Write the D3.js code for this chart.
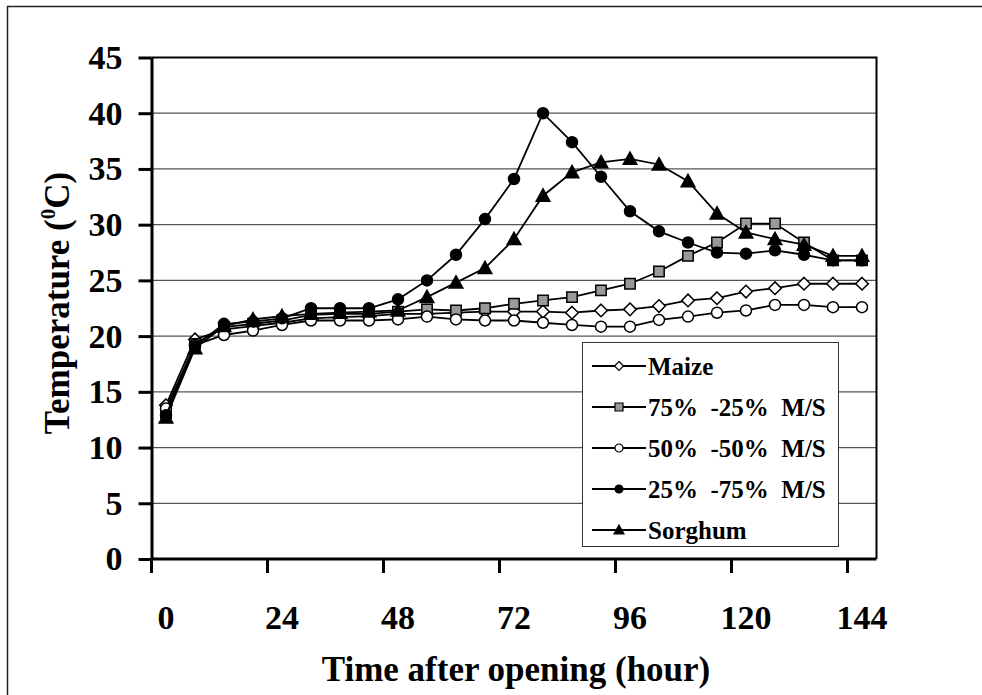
<!DOCTYPE html>
<html>
<head>
<meta charset="utf-8">
<script src="https://cdn.jsdelivr.net/npm/d3@7"></script>
<style>
body { margin: 0; background: #fff; }
text { font-family: "Liberation Serif", "Times New Roman", serif; font-weight: bold; }
</style>
</head>
<body>
<script>
// Data (temperature in deg C, one value every 6 hours)
var hours = [0, 6, 12, 18, 24, 30, 36, 42, 48, 54, 60, 66, 72, 78, 84, 90, 96, 102, 108, 114, 120, 126, 132, 138, 144];
var xLabels = [0, 24, 48, 72, 96, 120, 144];
var yTicks = [0, 5, 10, 15, 20, 25, 30, 35, 40, 45];
var seriesNames = ["Maize", "75%  -25%  M/S", "50%  -50%  M/S", "25%  -75%  M/S", "Sorghum"];

var maize   = [13.8, 19.7, 20.6, 20.9, 21.2, 21.6, 21.7, 21.8, 22.0, 22.0, 22.1, 22.2, 22.2, 22.2, 22.1, 22.3, 22.4, 22.7, 23.2, 23.4, 24.0, 24.3, 24.7, 24.7, 24.7];
var m75s25  = [13.1, 19.3, 20.8, 21.1, 21.4, 21.9, 22.0, 22.0, 22.2, 22.4, 22.3, 22.5, 22.9, 23.2, 23.5, 24.1, 24.7, 25.8, 27.2, 28.4, 30.1, 30.1, 28.4, 26.8, 26.8];
var m50s50  = [13.5, 19.2, 20.1, 20.5, 21.0, 21.4, 21.4, 21.4, 21.5, 21.75, 21.5, 21.4, 21.4, 21.2, 21.0, 20.85, 20.85, 21.45, 21.75, 22.1, 22.3, 22.8, 22.8, 22.6, 22.6];
var m25s75  = [12.9, 19.1, 21.1, 21.3, 21.6, 22.5, 22.5, 22.5, 23.3, 25.0, 27.3, 30.5, 34.1, 40.0, 37.4, 34.3, 31.2, 29.4, 28.4, 27.5, 27.4, 27.7, 27.3, 26.8, 26.8];
var sorghum = [12.7, 18.9, 20.9, 21.5, 21.8, 22.0, 22.1, 22.2, 22.3, 23.5, 24.8, 26.1, 28.7, 32.6, 34.7, 35.6, 35.9, 35.4, 33.9, 31.0, 29.3, 28.7, 28.2, 27.2, 27.2];

var W = 982, H = 695,
	plot = {left: 151.5, right: 876.5, top: 57.5, bottom: 559};

// marker looks, in series order
var styles = [
	{shape: "diamond",  fill: "#fff",    size: 6.3, leg: 4.5},
	{shape: "square",   fill: "#999",    size: 5.2, leg: 4},
	{shape: "circle",   fill: "#fff",    size: 5.5, leg: 4},
	{shape: "circle",   fill: "#000",    size: 5.5, leg: 4},
	{shape: "triangle", fill: "#000",    size: 6.8, leg: 5}
];
var series = [maize, m75s25, m50s50, m25s75, sorghum];

function markerPath(shape, s) {
	if (shape == "diamond") return "M0," + (-s) + "L" + s + ",0L0," + s + "L" + (-s) + ",0Z";
	if (shape == "square") return "M" + (-s) + "," + (-s) + "h" + 2*s + "v" + 2*s + "h" + (-2*s) + "Z";
	if (shape == "triangle") return "M0," + (-s) + "L" + s + "," + (s*0.8) + "L" + (-s) + "," + (s*0.8) + "Z";
	return "M" + (-s) + ",0A" + s + "," + s + " 0 1,0 " + s + ",0A" + s + "," + s + " 0 1,0 " + (-s) + ",0Z";
}

var svg = d3.select("body")
	.append("svg")
	.attr("width", W)
	.attr("height", H);

// outer chart border
svg.append("rect")
	.attr("x", 7.5)
	.attr("y", 6.5)
	.attr("width", W + 20)
	.attr("height", H + 20)
	.attr("fill", "#fff")
	.attr("stroke", "#222")
	.attr("stroke-width", 1.5);

var x = d3.scaleBand()
	.domain(hours)
	.range([plot.left, plot.right])
	.padding(0);

var y = d3.scaleLinear()
	.domain([0, 45])
	.range([plot.bottom, plot.top]);

// gridlines
svg.append("g")
	.selectAll("line")
	.data(yTicks.filter(function(d) { return d > 0 && d < 45; }))
	.enter()
	.append("line")
	.attr("x1", plot.left)
	.attr("x2", plot.right)
	.attr("y1", function(d) { return y(d); })
	.attr("y2", function(d) { return y(d); })
	.attr("stroke", "#555")
	.attr("stroke-width", 1.2);

// plot area border (top and right)
svg.append("path")
	.attr("d", "M" + plot.left + "," + y(45) + "H" + plot.right + "V" + plot.bottom)
	.attr("fill", "none")
	.attr("stroke", "#000")
	.attr("stroke-width", 2);

// y axis
var yAxis = svg.append("g")
	.attr("transform", "translate(" + plot.left + ",0)")
	.call(d3.axisLeft(y).tickValues(yTicks).tickSize(13).tickSizeOuter(0).tickPadding(16));
yAxis.select(".domain").attr("stroke-width", 3);
yAxis.selectAll(".tick line").attr("stroke-width", 3);
yAxis.selectAll(".tick text")
	.attr("font-size", "34px")
	.attr("font-family", null)
	.attr("fill", "#000");

// x axis
svg.append("line")
	.attr("x1", plot.left)
	.attr("x2", plot.right)
	.attr("y1", plot.bottom)
	.attr("y2", plot.bottom)
	.attr("stroke", "#000")
	.attr("stroke-width", 3);
svg.append("g")
	.selectAll("line")
	.data(xLabels)
	.enter()
	.append("line")
	.attr("x1", function(d) { return x(d); })
	.attr("x2", function(d) { return x(d); })
	.attr("y1", plot.bottom)
	.attr("y2", plot.bottom + 14)
	.attr("stroke", "#000")
	.attr("stroke-width", 3);
svg.append("g")
	.selectAll("text")
	.data(xLabels)
	.enter()
	.append("text")
	.text(function(d) { return d; })
	.attr("x", function(d) { return x(d) + x.bandwidth() / 2; })
	.attr("y", 629)
	.attr("font-size", "34px")
	.attr("text-anchor", "middle");

// axis titles
svg.append("text")
	.text("Time after opening (hour)")
	.attr("x", 516)
	.attr("y", 681)
	.attr("font-size", "35px")
	.attr("text-anchor", "middle");

var yt = svg.append("text")
	.attr("transform", "translate(69,303) rotate(-90)")
	.attr("font-size", "35px")
	.attr("text-anchor", "middle");
yt.append("tspan").text("Temperature (");
yt.append("tspan").text("0").attr("font-size", "21px").attr("dy", -14);
yt.append("tspan").text("C)").attr("dy", 14);

// series lines and markers
var line = d3.line()
	.x(function(d, i) { return x(hours[i]) + x.bandwidth() / 2; })
	.y(function(d) { return y(d); });

series.forEach(function(vals, k) {
	var g = svg.append("g");
	g.append("path")
		.attr("d", line(vals))
		.attr("fill", "none")
		.attr("stroke", "#000")
		.attr("stroke-width", 1.8);
	g.selectAll("path.m")
		.data(vals)
		.enter()
		.append("path")
		.attr("class", "m")
		.attr("d", markerPath(styles[k].shape, styles[k].size))
		.attr("transform", function(d, i) {
			return "translate(" + (x(hours[i]) + x.bandwidth() / 2) + "," + y(d) + ")";
		})
		.attr("fill", styles[k].fill)
		.attr("stroke", "#000")
		.attr("stroke-width", 1.5);
});

// legend
var leg = svg.append("g");
leg.append("rect")
	.attr("x", 582.5)
	.attr("y", 342.5)
	.attr("width", 256)
	.attr("height", 204)
	.attr("fill", "#fff")
	.attr("stroke", "#333")
	.attr("stroke-width", 1);

var rows = leg.selectAll("g.row")
	.data(seriesNames)
	.enter()
	.append("g")
	.attr("class", "row")
	.attr("transform", function(d, i) { return "translate(0," + (366 + i * 41) + ")"; });
rows.append("line")
	.attr("x1", 592)
	.attr("x2", 646)
	.attr("stroke", "#000")
	.attr("stroke-width", 1.8);
rows.append("path")
	.attr("d", function(d, i) { return markerPath(styles[i].shape, styles[i].leg); })
	.attr("transform", "translate(619,0)")
	.attr("fill", function(d, i) { return styles[i].fill; })
	.attr("stroke", "#000")
	.attr("stroke-width", 1.2);
rows.append("text")
	.text(function(d) { return d; })
	.attr("x", 648)
	.attr("y", 8.5)
	.attr("font-size", "25px")
	.style("white-space", "pre");
</script>
</body>
</html>
